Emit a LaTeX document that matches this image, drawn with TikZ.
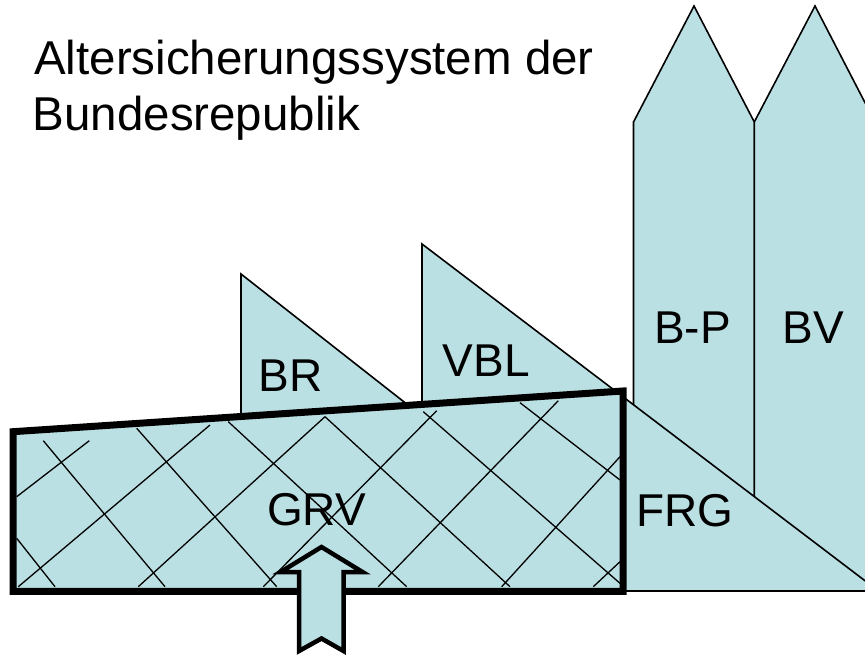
\documentclass[tikz,border=0pt]{standalone}
\usepackage{fontspec}
\setmainfont{Liberation Sans}
\definecolor{paleblue}{HTML}{BBE0E3}
\begin{document}
\begin{tikzpicture}[x=1pt,y=-1pt,
  panel/.style={fill=paleblue,draw=black,line width=1.6pt,line join=miter},
  hatchline/.style={draw=black,line width=1.3pt},
  lbl/.style={anchor=base west,inner sep=0pt,font=\fontsize{46}{55}\selectfont},
  titletext/.style={anchor=base west,inner sep=0pt,font=\fontsize{47.5}{57}\selectfont}]
\useasboundingbox (0,0) rectangle (865,656);

% title
\node[titletext] (title1) at (34,74) {Altersicherungssystem der};
\node[titletext] (title2) at (32.5,130) {Bundesrepublik};

% small wedge behind the main block
\draw[panel] (241,274) -- (241,591) -- (645,591) -- cycle;

% the two tall pointed columns
\draw[panel] (633.5,591) -- (633.5,122) -- (694,6) -- (754.3,122) -- (754.3,591) -- cycle;
\draw[panel] (754.3,591) -- (754.3,122) -- (815,6) -- (875,122) -- (875,591) -- cycle;

% large wedge in front of the columns
\draw[panel] (422,244) -- (422,591) -- (878.5,591) -- cycle;

% main block with cross hatching
\fill[paleblue] (13,431.7) -- (623,391) -- (623,591.3) -- (13,591.3) -- cycle;
\begin{scope}
  \clip (13,431.7) -- (623,391) -- (623,591.3) -- (13,591.3) -- cycle;
  \foreach \xa/\ya/\xb/\yb in {
    16.7/496.7/89.3/440.7, 18.3/586.7/210/425, 138.3/586.7/325/416.7,
    263.3/586.7/436.7/410.7, 378.3/586.7/558.3/400.7, 501.7/586.7/620/456.7,
    593.3/586.7/620/561.7,
    16.7/538.3/55/586.7, 43.3/440.7/165/586.7, 136.7/428.3/276.7/586.7,
    228.3/421.7/406.7/586.7, 325/416.7/510/586.7, 423.3/411.7/620/583.3,
    520/402.7/620/480}
    \draw[hatchline] (\xa,\ya) -- (\xb,\yb);
\end{scope}
\draw[line width=7pt,line join=miter] (13,431.7) -- (623,391) -- (623,591.3) -- (13,591.3) -- cycle;

% upward block arrow
\draw[fill=paleblue,line width=4.5pt,line join=miter]
  (321.5,547) -- (362.5,572) -- (343.5,572) -- (343.5,651) -- (321.5,638.5)
  -- (299,651) -- (299,572) -- (280.5,572) -- cycle;

% labels
\node[lbl] (br)  at (258.3,391.7) {BR};
\node[lbl] (vbl) at (442.5,376) {VBL};
\node[lbl] (bp)  at (654,343.3) {B-P};
\node[lbl] (bv)  at (782.3,343.3) {BV};
\node[lbl] (grv) at (267,525.5) {GRV};
\node[lbl] (frg) at (636.3,526.5) {FRG};
\end{tikzpicture}
\end{document}
